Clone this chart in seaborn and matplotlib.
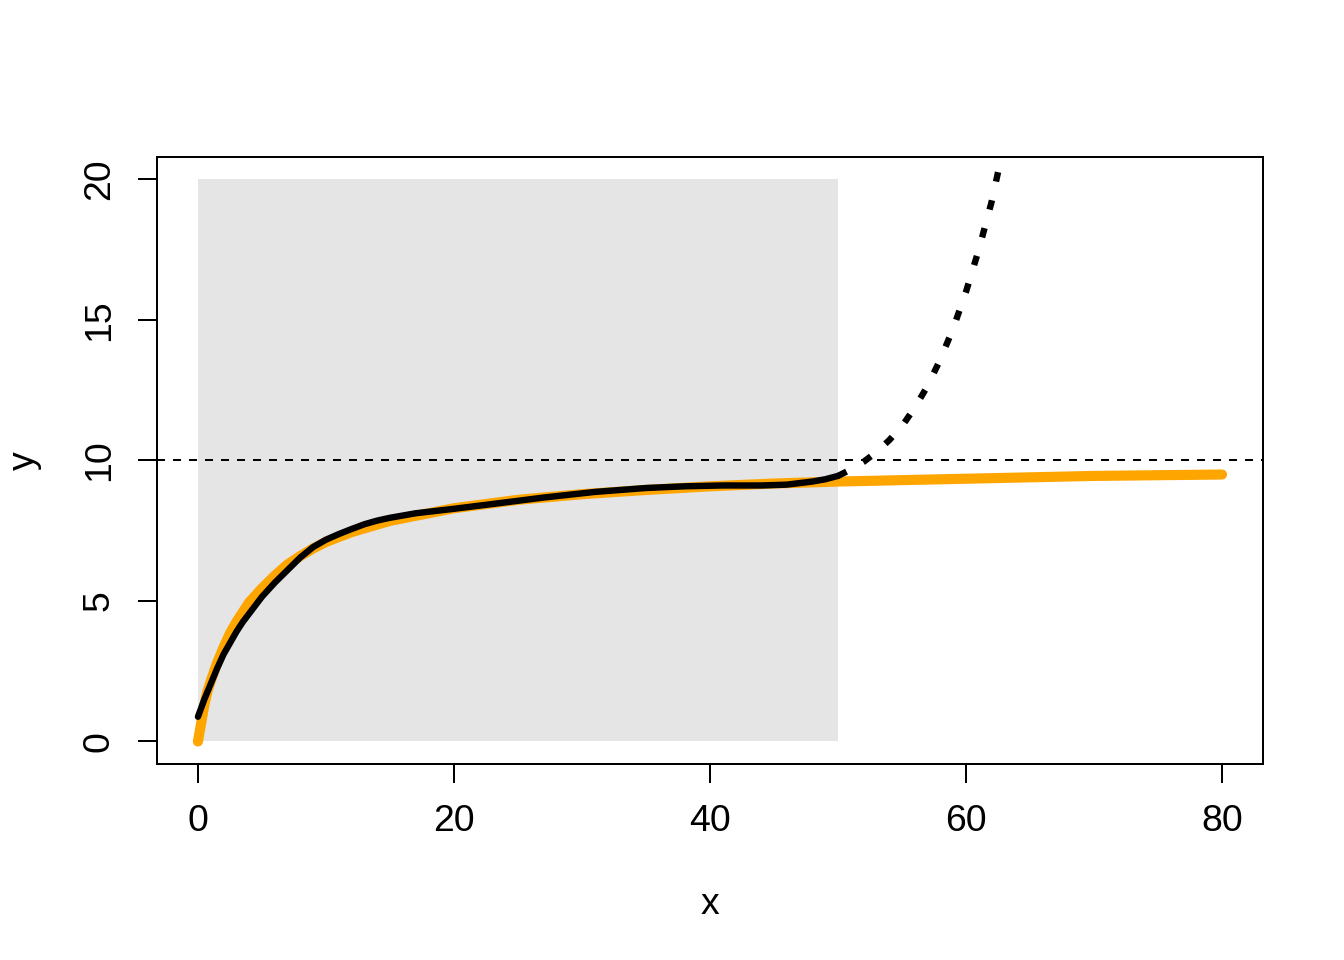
import matplotlib
matplotlib.use('Agg')
import matplotlib.pyplot as plt
import seaborn as sns
import pandas as pd

# =============================================================================
# Data
# =============================================================================

# orange curve (observed values)
orange_x = [0, 0.25, 0.5, 0.75, 1, 1.5, 2, 2.5, 3, 4, 5, 6, 7, 8, 9, 10, 12, 15, 20,
            25, 30, 35, 40, 45, 50, 60, 70, 80]
orange_y = [0, 0.65, 1.3, 1.8, 2.15, 2.8, 3.35, 3.85, 4.25, 4.95, 5.45, 5.9, 6.3, 6.6,
            6.87, 7.1, 7.45, 7.85, 8.3, 8.6, 8.8, 8.95, 9.08, 9.18, 9.25, 9.35, 9.45, 9.5]

# black fitted curve inside the shaded range
fit_x = [0, 0.5, 1, 1.5, 2, 2.5, 3, 3.5, 4, 5, 6, 7, 8, 9, 10, 11, 12, 13, 14, 15, 17,
         20, 23, 27, 31, 35, 38, 41, 44, 46, 48, 49, 50]
fit_y = [0.88, 1.5, 2.05, 2.6, 3.1, 3.5, 3.9, 4.25, 4.55, 5.15, 5.65, 6.1, 6.55, 6.92,
         7.18, 7.38, 7.56, 7.73, 7.86, 7.96, 8.12, 8.28, 8.45, 8.68, 8.88, 9.02, 9.08,
         9.11, 9.11, 9.14, 9.25, 9.33, 9.45]

# dotted extrapolation beyond the shaded range
extrap_x = [50, 51, 52, 53, 54, 55, 56, 57, 58, 59, 60, 61, 62, 63, 64]
extrap_y = [9.45, 9.68, 9.95, 10.3, 10.72, 11.22, 11.88, 12.65, 13.6, 14.7, 16.0, 17.5,
            19.2, 21.3, 23.5]

# shaded training window and reference level
shade_x = (0, 50)
shade_y = (0, 20)
ref_level = 10

x_ticks = [0, 20, 40, 60, 80]
y_ticks = [0, 5, 10, 15, 20]

orange_df = pd.DataFrame({'x': orange_x, 'y': orange_y})
fit_df = pd.DataFrame({'x': fit_x, 'y': fit_y})
extrap_df = pd.DataFrame({'x': extrap_x, 'y': extrap_y})

# =============================================================================
# Plot
# =============================================================================

sns.set_theme(style='white')
plt.rcParams['font.family'] = ['Liberation Sans', 'DejaVu Sans']

fig = plt.figure(figsize=(7, 5), dpi=192)
ax = fig.add_axes([0.1168, 0.2042, 0.8229, 0.6323])

ax.fill_between(shade_x, shade_y[0], shade_y[1], color='#e5e5e5', lw=0, zorder=1)
ax.axhline(ref_level, color='black', lw=0.75, linestyle=(0, (4, 4)), zorder=2)

sns.lineplot(data=orange_df, x='x', y='y', sort=False, color='orange', lw=3.8,
             solid_capstyle='round', solid_joinstyle='round', ax=ax, zorder=3)
sns.lineplot(data=fit_df, x='x', y='y', sort=False, color='black', lw=2.4,
             solid_capstyle='round', solid_joinstyle='round', ax=ax, zorder=4)
sns.lineplot(data=extrap_df, x='x', y='y', sort=False, color='black', lw=2.4,
             linestyle=(0, (1.5, 3.0)), ax=ax, zorder=4)

ax.set_xlim(-3.2, 83.2)
ax.set_ylim(-0.8, 20.8)
ax.set_xticks(x_ticks)
ax.set_yticks(y_ticks)
ax.set_yticklabels([str(v) for v in y_ticks], rotation=90, va='center')

for s in ax.spines.values():
    s.set_color('black')
    s.set_linewidth(0.75)
ax.tick_params(axis='both', direction='out', length=7, width=0.75, color='black',
               labelsize=14, labelcolor='black', bottom=True, left=True)
ax.tick_params(axis='x', pad=8)
ax.tick_params(axis='y', pad=8)

ax.set_xlabel('x', fontsize=14, color='black', labelpad=18)
ax.set_ylabel('y', fontsize=14, color='black', labelpad=15)
ax.grid(False)

plt.savefig('out.png', dpi=192)
